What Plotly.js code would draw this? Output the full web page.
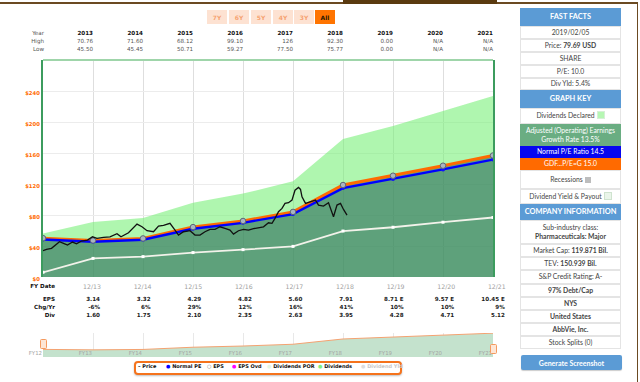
<!DOCTYPE html>
<html><head><meta charset="utf-8">
<script src="https://cdn.plot.ly/plotly-3.0.1.min.js"></script>
<style>
body{margin:0;width:640px;height:382px;overflow:hidden;background:#fff;position:relative;font-family:"DejaVu Sans",sans-serif}
.t{position:absolute;white-space:nowrap;line-height:1}
.btn{position:absolute;top:10px;width:20px;height:14px;background:#fde2d2;color:#f6a371;font:bold 6px "DejaVu Sans";display:flex;align-items:center;justify-content:center}
.cell{position:absolute;left:520px;width:101px;background:#fff;border:1px solid #e4e4e4;box-sizing:border-box;display:flex;align-items:center;justify-content:center;font:6.8px Lato,"Open Sans",sans-serif;color:#444;line-height:1.35;text-align:center}
.cell > span{display:block;white-space:nowrap}
.hdr{background:#5b9bd5;color:#fff;font-weight:bold;font-size:7.4px;border:1px solid #5b9bd5}
.sw{display:inline-block;width:6px;height:6px;vertical-align:-1px;margin-left:2px}
b{font-weight:bold}
</style></head><body>
<div id="chart" style="position:absolute;left:0;top:0;width:640px;height:382px"></div>
<div id="over"></div>
<script>
// ---- data ----
const fyLabels = ['12/12','12/13','12/14','12/15','12/16','12/17','12/18','12/19','12/20','12/21'];
const fyIndex = [0,1,2,3,4,5,6,7,8,9];
const navLabels = ['FY12','FY13','FY14','FY15','FY16','FY17','FY18','FY19','FY20','FY21'];
const tableYears = ['2013','2014','2015','2016','2017','2018','2019','2020','2021'];
const highs = ['70.76','71.60','68.12','99.10','126','92.30','0.00','N/A','N/A'];
const lows  = ['45.50','45.45','50.71','59.27','77.50','75.77','0.00','N/A','N/A'];
const epsText = ['3.14','3.32','4.29','4.82','5.60','7.91','8.71 E','9.57 E','10.45 E'];
const chgText = ['-6%','6%','29%','12%','16%','41%','10%','10%','9%'];
const divText = ['1.60','1.75','2.10','2.35','2.63','3.95','4.28','4.71','5.12'];
// earnings at GDF P/E 15 (orange), normal P/E 14.5 (blue), dividends (white), $
const earningsValue = [50.1,47.1,49.8,64.4,72.3,84.0,118.7,130.7,143.6,156.8];
const normalPEValue = [48.4,45.5,48.1,62.2,69.9,81.2,114.7,126.3,138.8,151.5];
const dividendValue = [6.0,24.0,26.3,31.5,35.3,39.5,59.3,64.2,70.7,76.8];
// monthly price (x in years since 12/12)
const priceX = [0.00,0.07,0.17,0.33,0.41,0.49,0.59,0.67,0.77,0.89,0.99,1.08,1.21,1.34,1.48,1.56,1.71,1.88,1.98,2.08,2.21,2.31,2.41,2.54,2.64,2.71,2.81,2.94,3.04,3.14,3.24,3.34,3.44,3.54,3.64,3.74,3.81,3.91,4.01,4.11,4.21,4.31,4.41,4.51,4.58,4.64,4.71,4.78,4.84,4.91,4.98,5.04,5.11,5.15,5.18,5.25,5.35,5.45,5.51,5.61,5.71,5.78,5.81,5.88,5.95,6.01,6.08];
const priceY = [33.9,35.7,37.0,45.5,43.4,41.2,45.1,42.9,46.4,47.7,51.9,49.9,51.2,51.9,55.8,51.9,57.1,68.3,64.8,59.7,58.4,65.7,66.6,69.2,60.6,54.1,58.4,59.7,54.1,54.1,58.4,61.4,61.4,64.8,62.8,60.6,55.4,59.7,61.4,60.6,62.3,64.0,64.8,70.0,69.2,75.6,84.2,88.5,95.0,95.8,99.2,112.0,115.6,113.0,103.5,95.0,97.0,99.2,92.8,91.5,95.8,84.2,77.7,92.8,95.0,87.2,79.9];
const yTicks = [0,40,80,120,160,200,240];
const yTickText = ['$0','$40','$80','$120','$160','$200','$240'];

const traces = [
  {x:fyIndex,y:earningsValue,type:'scatter',mode:'lines',stackgroup:'s',fillcolor:'rgba(58,140,94,0.82)',line:{width:0},hoverinfo:'skip',xaxis:'x',yaxis:'y'},
  {x:fyIndex,y:dividendValue,type:'scatter',mode:'lines',stackgroup:'s',fillcolor:'rgba(118,240,118,0.58)',line:{width:0},hoverinfo:'skip',xaxis:'x',yaxis:'y'},
  {x:fyIndex,y:dividendValue,type:'scatter',mode:'lines+markers',line:{color:'#f2f2ea',width:1.8},marker:{symbol:'square',size:3,color:'#ffffff'},xaxis:'x',yaxis:'y'},
  {x:fyIndex,y:earningsValue,type:'scatter',mode:'lines',line:{color:'#ff6a00',width:3},xaxis:'x',yaxis:'y'},
  {x:fyIndex,y:normalPEValue,type:'scatter',mode:'lines+markers',line:{color:'#0000ff',width:2.4},marker:{size:4,color:'#1010ff'},xaxis:'x',yaxis:'y'},
  {x:fyIndex,y:earningsValue,type:'scatter',mode:'markers',marker:{size:5.5,color:'#a9b4c2',line:{color:'#5d6877',width:1}},xaxis:'x',yaxis:'y'},
  {x:priceX,y:priceY,type:'scatter',mode:'lines',line:{color:'#111111',width:1.3},xaxis:'x',yaxis:'y'},
  {x:fyIndex,y:earningsValue,type:'scatter',mode:'lines',fill:'tozeroy',fillcolor:'#c4e2cd',line:{color:'#f4a271',width:1},xaxis:'x2',yaxis:'y2'}
];
const layout = {
  width:640,height:382,margin:{l:43,r:147,t:0,b:0},showlegend:false,
  paper_bgcolor:'rgba(0,0,0,0)',plot_bgcolor:'#ffffff',
  xaxis:{domain:[0,1],range:[0,9],tickvals:fyIndex,showticklabels:false,ticks:'',showgrid:true,gridcolor:'#dedede',gridwidth:1,zeroline:false,showline:false,anchor:'y'},
  yaxis:{domain:[(382-277)/382,(382-60)/382],range:[0,280],tickvals:yTicks,ticktext:yTickText,ticklabelshift:2,
    tickfont:{family:'DejaVu Sans',size:5.3,color:'#ff6a00',weight:'bold'},showgrid:true,gridcolor:'#ececec',zeroline:false,
    showline:true,mirror:true,linecolor:'#3c9c5e',linewidth:2,ticks:'',anchor:'x'},
  xaxis2:{domain:[0,1],range:[0,9],tickvals:fyIndex,showticklabels:false,showgrid:true,gridcolor:'#e8e8e8',zeroline:false,anchor:'y2'},
  yaxis2:{domain:[(382-357)/382,(382-333)/382],range:[0,158],showticklabels:false,showgrid:false,zeroline:false,anchor:'x2'},
  shapes:[
    {type:'line',xref:'x',yref:'paper',x0:0,x1:9,y0:(382-60)/382,y1:(382-60)/382,line:{color:'#9fd5aa',width:2}}
  ]
};
Plotly.newPlot('chart',traces,layout,{displayModeBar:false,staticPlot:true});

// ---- overlay text ----
const over = document.getElementById('over');
function txt(s,x,y,css,right){const d=document.createElement('div');d.className='t';d.innerHTML=s;d.style.cssText+=css;
  if(right){d.style.right=(640-x)+'px';}else{d.style.left=x+'px';} d.style.top=y+'px'; over.appendChild(d); return d;}
// frame lines
over.insertAdjacentHTML('beforeend','<div style="position:absolute;left:0;top:2px;width:638px;height:1.5px;background:#6b4a22"></div><div style="position:absolute;left:343px;top:0;width:154px;height:3.5px;background:#5a3a10"></div><div style="position:absolute;left:636.5px;top:2px;width:1.5px;height:380px;background:#6b4a22"></div>');
// range buttons
const btnLabels=['7Y','6Y','5Y','4Y','3Y','All'];
const btnX=[207,229,251,273,294,315];
btnLabels.forEach((b,i)=>{const d=document.createElement('div');d.className='btn';d.textContent=b;d.style.left=btnX[i]+'px';
  if(b==='All'){d.style.background='#ff7400';d.style.color='#2a1a00';}over.appendChild(d);});
// top table
const fs='font-size:5.6px;';
txt('Year',44,30.5,fs+'color:#555',true);txt('High',44,38.7,fs+'color:#555',true);txt('Low',44,47,fs+'color:#555',true);
tableYears.forEach((y,i)=>{const rx=93+50*i;
  txt(y,rx,30.5,fs+'font-weight:bold;color:#111',true);
  txt(highs[i],rx,38.7,fs+'color:#555',true);
  txt(lows[i],rx,47,fs+'color:#555',true);});
// x tick labels and EPS table
txt('FY Date',55,283.5,fs+'font-weight:bold;color:#111',true);
txt('EPS',55,296.5,fs+'font-weight:bold;color:#111',true);
txt('Chg/Yr',55,304.8,fs+'font-weight:bold;color:#111',true);
txt('Div',55,312.5,fs+'font-weight:bold;color:#111',true);
for(let i=1;i<fyLabels.length;i++){
  const cx=92+50.6*(i-1);
  txt(fyLabels[i],cx-12,283.5,'font-size:6.2px;color:#a0a0a0;width:24px;text-align:center',false);
  const rx=100+50.6*(i-1);
  txt(epsText[i-1],rx,296.5,fs+'font-weight:bold;color:#222',true);
  txt(chgText[i-1],rx,304.8,fs+'font-weight:bold;color:#222',true);
  txt(divText[i-1],rx,312.5,fs+'font-weight:bold;color:#222',true);
}
// navigator labels & handles
navLabels.forEach((l,i)=>{txt(l,42+50*i,350.5,'font-size:5.4px;color:#a5a5a5',true);});
over.insertAdjacentHTML('beforeend','<div style="position:absolute;left:40px;top:339px;width:5px;height:8px;border:1px solid #f59a5e;background:#fde6d6;border-radius:1.5px"></div><div style="position:absolute;left:490px;top:343.5px;width:5px;height:8px;border:1px solid #f59a5e;background:#fde6d6;border-radius:1.5px"></div>');
// legend box
over.insertAdjacentHTML('beforeend',`<div style="position:absolute;left:134px;top:361px;width:264px;height:10px;border:2px solid #f5731c;border-radius:4px;box-shadow:0 1px 2px rgba(0,0,0,0.25);background:#fff"></div>`);
const leg=[['–','#111','Price','#111',138],['●','#0000ff','Normal PE','#111',166],['○','#777','EPS','#111',207],['●','#ff00ff','EPS Ovd','#111',232],['●','#e4f6e4','Dividends POR','#111',267],['●','#80f080','Dividends','#111',318],['●','#dddddd','Dividend Yld','#c8c8c8',361]];
leg.forEach(l=>{txt(`<span style="color:${l[1]}">${l[0]}</span> <span style="color:${l[3]}">${l[2]}</span>`,l[4],364.3,'font-size:5px;font-weight:bold',false);});
// right panel
const rows=[
 [8,18,'FAST FACTS','hdr'],
 [26,13,'2019/02/05',''],
 [39,13,'Price: <b>79.69 USD</b>',''],
 [52,13,'SHARE',''],
 [65,13,'P/E: 10.0',''],
 [78,12,'Div Yld: 5.4%',''],
 [90,18,'GRAPH KEY','hdr'],
 [108,16,'Dividends Declared<span class="sw" style="background:#b6f7b3;border:1px solid #d6efd6"></span>',''],
 [124,22,'Adjusted (Operating) Earnings<br>Growth Rate 13.5%','g'],
 [146,12,'Normal P/E Ratio 14.5','bl'],
 [158,12,'GDF...P/E=G 15.0','or'],
 [170,19,'Recessions<span class="sw" style="background:#bdbdbd"></span>',''],
 [189,15,'Dividend Yield &amp; Payout<span class="sw" style="background:#eaf5ea;border:1px solid #cfe3cf"></span>',''],
 [204,16,'COMPANY INFORMATION','hdr'],
 [220,24,'Sub-industry class:<br><b>Pharmaceuticals: Major</b>',''],
 [244,13,'Market Cap: <b>119.871 Bil.</b>',''],
 [257,13,'TEV: <b>150.939 Bil.</b>',''],
 [270,14,'S&amp;P Credit Rating: A-',''],
 [284,13,'<b>97% Debt/Cap</b>',''],
 [297,13,'<b>NYS</b>',''],
 [310,13,'<b>United States</b>',''],
 [323,13,'<b>AbbVie, Inc.</b>',''],
 [336,13,'Stock Splits (0)','']
];
rows.forEach(r=>{const d=document.createElement('div');d.className='cell'+(r[3]==='hdr'?' hdr':'');d.style.top=r[0]+'px';d.style.height=r[1]+'px';d.innerHTML='<span>'+r[2]+'</span>';
  if(r[3]==='g'){d.style.background='#6aad82';d.style.color='#fff';d.style.border='1px solid #6aad82';}
  if(r[3]==='bl'){d.style.background='#0606f0';d.style.color='#fff';d.style.border='1px solid #0606f0';}
  if(r[3]==='or'){d.style.background='#ff6a00';d.style.color='#fff';d.style.border='1px solid #ff6a00';}
  over.appendChild(d);});
over.insertAdjacentHTML('beforeend','<div style="position:absolute;left:521px;top:355px;width:101px;height:15px;background:#5b9bd5;border-radius:2px;color:#fff;font:bold 7px Lato,sans-serif;display:flex;align-items:center;justify-content:center;box-shadow:0 1px 1px rgba(0,0,0,0.2)">Generate Screenshot</div>');
</script>
</body></html>
